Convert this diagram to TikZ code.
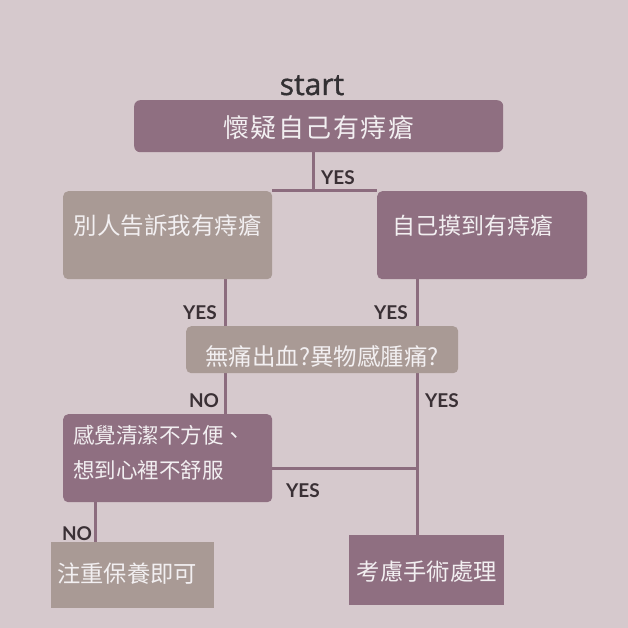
\documentclass[tikz,border=0pt]{standalone}
\usepackage{fontspec}
\newfontfamily\cjk{Noto Sans CJK TC}
\newfontfamily\labfont{Lato}
\newfontfamily\startfont[FakeBold=1.2]{Open Sans}
\definecolor{bgcol}{HTML}{D6C9CD}
\definecolor{boxpurple}{HTML}{8F6F81}
\definecolor{boxtaupe}{HTML}{A99A95}
\definecolor{linepurple}{HTML}{8C6C7E}
\definecolor{boxtext}{HTML}{F2EFF1}
\definecolor{labtext}{HTML}{3A3035}
\definecolor{starttext}{HTML}{333033}
\pgfdeclarelayer{back}
\pgfdeclarelayer{lines}
\pgfsetlayers{back,lines,main}
\begin{document}
\begin{tikzpicture}[x=1pt,y=-1pt,
  box/.style={inner sep=0pt, anchor=north west, text=boxtext},
  purplebox/.style={box, fill=boxpurple},
  taupebox/.style={box, fill=boxtaupe},
  lab/.style={anchor=base, text=labtext, font=\labfont\bfseries\fontsize{19}{19}\selectfont},
  conn/.style={draw=linepurple, line width=3pt}]
\useasboundingbox (0,0) rectangle (628,628);
\begin{pgfonlayer}{back}
  \fill[bgcol] (0,0) rectangle (628,628);
\end{pgfonlayer}

\node[anchor=base, text=starttext, font=\startfont\fontsize{30}{30}\selectfont] (start) at (312,95) {start};

\node[purplebox, rounded corners=6pt, text width=369pt, align=center,
      text height=36.9pt, text depth=15.1pt,
      font=\cjk\fontsize{26}{26}\selectfont\addfontfeatures{LetterSpace=6}] (b1) at (134,100) {懷疑自己有痔瘡};

\node[taupebox, rounded corners=5pt, text width=209pt, align=center,
      text height=42.9pt, text depth=45.1pt,
      font=\cjk\fontsize{23.5}{23.5}\selectfont] (b2) at (63,191) {別人告訴我有痔瘡};

\node[purplebox, rounded corners=5pt, inner xsep=15pt, text width=180pt, align=left,
      text height=43.4pt, text depth=44.6pt,
      font=\cjk\fontsize{23}{23}\selectfont] (b3) at (377,191) {自己摸到有痔瘡};

\node[taupebox, rounded corners=5pt, text width=272pt, align=center,
      text height=38.9pt, text depth=8.1pt,
      font=\cjk\fontsize{23.5}{23.5}\selectfont] (b4) at (186,326) {無痛出血?異物感腫痛?};

\node[purplebox, rounded corners=5pt, inner xsep=10pt, text width=189pt, align=left,
      text height=29.2pt, text depth=58.8pt,
      font=\cjk\fontsize{21.5}{35}\selectfont] (b5) at (63,414) {感覺清潔不方便、\\想到心裡不舒服};

\node[taupebox, inner xsep=6pt, text width=151pt, align=left,
      text height=39.9pt, text depth=26.1pt,
      font=\cjk\fontsize{23.3}{23.3}\selectfont] (b6) at (51,542) {注重保養即可};

\node[purplebox, text width=155pt, align=center,
      text height=44.9pt, text depth=25.1pt,
      font=\cjk\fontsize{23.3}{23.3}\selectfont] (b7) at (349,535) {考慮手術處理};

\node[lab] (y1) at (338,185) {YES};
\node[lab] (y2) at (200,319) {YES};
\node[lab] (y3) at (391,319) {YES};
\node[lab] (n1) at (204,407) {NO};
\node[lab] (y4) at (442,407) {YES};
\node[lab] (y5) at (303,497) {YES};
\node[lab] (n2) at (77,540) {NO};

\begin{pgfonlayer}{lines}
  \coordinate (cx) at (313,0);
  \coordinate (lx) at (225,0);
  \coordinate (rx) at (417,0);
  \coordinate (bx) at (95,0);
  \coordinate (hy) at (0,468);
  \draw[conn] (cx |- b1.south) -- (cx |- b2.north);
  \draw[conn] (b2.north east) -- (b3.north west);
  \draw[conn] (lx |- b2.south) -- (lx |- b5.north);
  \draw[conn] (rx |- b3.south) -- (rx |- b7.north);
  \draw[conn] (b5.east |- hy) -- (rx |- hy);
  \draw[conn] (bx |- b5.south) -- (bx |- b6.north);
\end{pgfonlayer}
\end{tikzpicture}
\end{document}
